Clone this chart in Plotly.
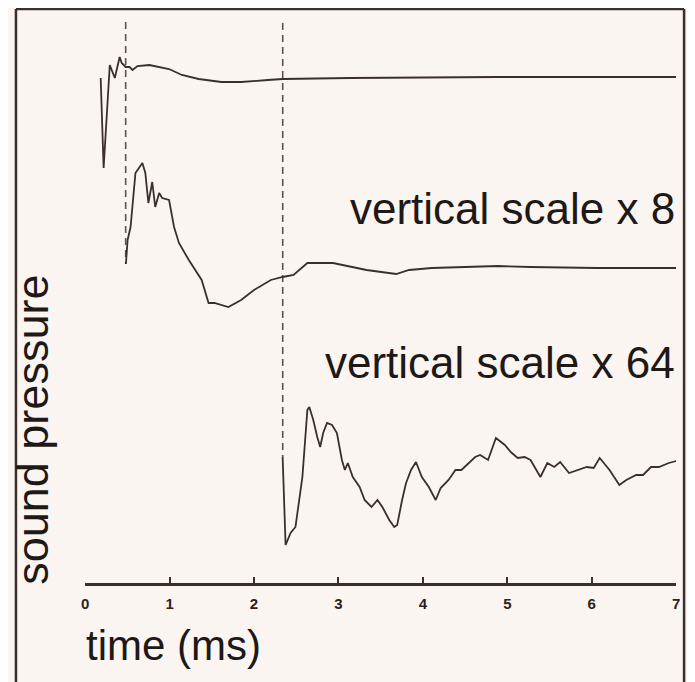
import plotly.graph_objects as go

# ---- data (time in ms, sound pressure in arbitrary units, traces drawn offset) ----
top_t = [0.184, 0.219, 0.292, 0.351, 0.409, 0.433, 0.480, 0.526, 0.561, 0.620, 0.760,
         0.994, 1.146, 1.345, 1.614, 1.848, 2.164, 2.339, 3.135, 4.889, 7.0]
top_p = [50.5, 41.5, 51.8, 50.5, 52.6, 52.0, 51.6, 51.6, 51.3, 51.7, 51.8,
         51.4, 50.8, 50.4, 50.1, 50.1, 50.3, 50.4, 50.5, 50.6, 50.6]

mid_t = [0.483, 0.503, 0.538, 0.596, 0.678, 0.713, 0.749, 0.795, 0.830, 0.877, 0.912,
         0.994, 1.053, 1.111, 1.228, 1.380, 1.462, 1.532, 1.696, 1.848, 2.000, 2.199,
         2.339, 2.468, 2.632, 2.784, 2.936, 3.333, 3.684, 3.836, 4.105, 4.889, 5.275,
         6.058, 7.0]
mid_p = [31.9, 34.3, 35.6, 41.0, 42.0, 41.0, 38.0, 40.1, 37.6, 39.0, 38.5,
         38.3, 35.6, 34.0, 32.3, 30.3, 28.0, 28.0, 27.6, 28.3, 29.3, 30.3,
         30.6, 30.8, 32.0, 32.0, 32.0, 31.3, 30.9, 31.3, 31.5, 31.7, 31.6,
         31.5, 31.5]

bot_t = [2.339, 2.374, 2.433, 2.491, 2.573, 2.632, 2.655, 2.702, 2.749, 2.784, 2.819,
         2.865, 2.924, 2.982, 3.041, 3.076, 3.111, 3.170, 3.251, 3.310, 3.392, 3.462,
         3.520, 3.602, 3.661, 3.696, 3.754, 3.801, 3.860, 3.918, 3.988, 4.070, 4.152,
         4.211, 4.304, 4.386, 4.456, 4.538, 4.620, 4.678, 4.772, 4.865, 4.971, 5.041,
         5.123, 5.205, 5.275, 5.392, 5.474, 5.556, 5.626, 5.731, 5.825, 5.942, 6.023,
         6.094, 6.211, 6.327, 6.409, 6.526, 6.608, 6.702, 6.795, 6.912, 7.0]
bot_p = [12.6, 3.8, 5.0, 5.6, 10.6, 17.3, 17.6, 16.3, 14.6, 13.6, 15.0,
         16.0, 15.8, 15.0, 12.3, 11.3, 12.0, 10.6, 9.6, 8.3, 7.6, 8.3,
         7.6, 6.3, 5.6, 5.8, 8.3, 10.0, 11.3, 12.1, 10.6, 9.6, 8.3,
         9.5, 10.3, 11.3, 11.3, 12.0, 12.6, 12.8, 12.3, 14.5, 13.8, 13.1,
         12.5, 12.6, 12.3, 10.6, 12.0, 11.6, 12.1, 11.0, 11.3, 11.6, 11.5,
         12.5, 11.3, 9.8, 10.3, 10.8, 10.8, 11.6, 11.6, 12.0, 12.2]

# dashed markers: time, top and bottom pressure extent
marker_t = [0.48, 2.34]
marker_top = [56.1, 56.0]
marker_bottom = [31.9, 12.6]

tick_vals = [0, 1, 2, 3, 4, 5, 6, 7]
tick_text = ["0", "1", "2", "3", "4", "5", "6", "7"]

labels_scale = ["vertical scale x 8", "vertical scale x 64"]

# page has an 8px body margin; figure sized to fit the 695x682 window
OFF = 8
W, H = 695 - OFF, 682 - OFF
INK = "#3b2f2d"
BG = "#fbf5f2"
TXT = "#1e1816"
FONT = "Liberation Sans"


def px(x):
    return (x - OFF) / W


def py(y):
    return 1 - (y - OFF) / H


fig = go.Figure()

for t, a, b in zip(marker_t, marker_top, marker_bottom):
    fig.add_trace(go.Scatter(x=[t, t], y=[a, b], mode="lines",
                             line=dict(color="#5e504c", width=1.6, dash="7px,5px"),
                             hoverinfo="skip", showlegend=False))

for xs, ys in [(top_t, top_p), (mid_t, mid_p), (bot_t, bot_p)]:
    fig.add_trace(go.Scatter(x=xs, y=ys, mode="lines",
                             line=dict(color=INK, width=1.8),
                             showlegend=False))

fig.update_layout(
    width=W, height=H,
    margin=dict(l=0, r=0, t=0, b=0),
    paper_bgcolor=BG, plot_bgcolor=BG,
    font=dict(family=FONT, color=TXT),
    xaxis=dict(domain=[px(82), px(680)], range=[0, 7],
               showgrid=False, zeroline=False,
               showline=True, linecolor=INK, linewidth=2.5,
               ticks="inside", ticklen=6, tickwidth=1.5, tickcolor=INK,
               tickvals=tick_vals, ticktext=tick_text,
               tickfont=dict(size=15, family=FONT, weight="bold", color="#2a2220"),
               ticklabelstandoff=5),
    yaxis=dict(domain=[py(583), py(8)], range=[0, 57.5],
               showgrid=False, zeroline=False, showline=False,
               showticklabels=False, ticks=""),
)

# outer frame
frame = dict(type="line", xref="paper", yref="paper",
             line=dict(color=INK, width=2.5))
fig.add_shape(**frame, x0=px(12), x1=px(12), y0=0, y1=py(9))
fig.add_shape(**frame, x0=px(12), x1=px(688), y0=py(9), y1=py(9))
fig.add_shape(**frame, x0=px(688), x1=px(688), y0=py(9), y1=0)

fig.add_annotation(text=labels_scale[0], xref="paper", yref="paper",
                   x=px(681), y=py(208), xanchor="right", yanchor="middle",
                   showarrow=False, font=dict(size=44, family=FONT, color=TXT))
fig.add_annotation(text=labels_scale[1], xref="paper", yref="paper",
                   x=px(681), y=py(362), xanchor="right", yanchor="middle",
                   showarrow=False, font=dict(size=44, family=FONT, color=TXT))
fig.add_annotation(text="time (ms)", xref="paper", yref="paper",
                   x=px(81), y=py(645), xanchor="left", yanchor="middle",
                   showarrow=False, font=dict(size=42, family=FONT, color=TXT))
fig.add_annotation(text="sound pressure", xref="paper", yref="paper",
                   x=px(28), y=py(430), xanchor="center", yanchor="middle",
                   textangle=-90,
                   showarrow=False, font=dict(size=45, family=FONT, color=TXT))

fig.write_html("out.html")
